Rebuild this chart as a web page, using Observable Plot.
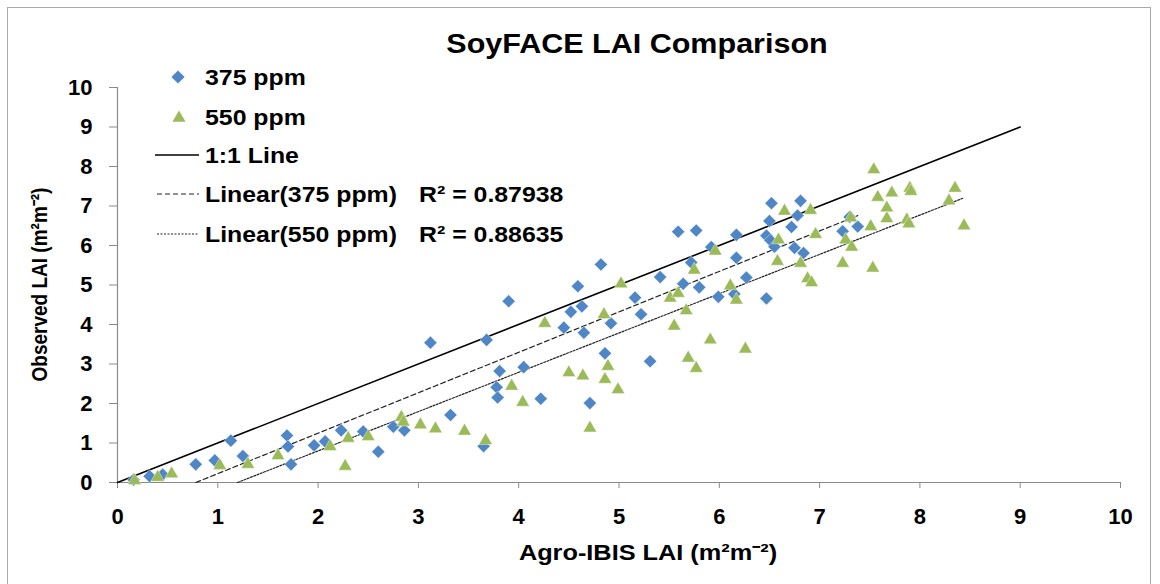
<!DOCTYPE html>
<html><head><meta charset="utf-8">
<script src="https://cdn.jsdelivr.net/npm/d3@7"></script>
<script src="https://cdn.jsdelivr.net/npm/@observablehq/plot@0.6"></script>
<style>
body{margin:0;background:#fff;font-family:"Liberation Sans",Arial,sans-serif;}
#wrap{position:relative;width:1160px;height:584px;overflow:hidden;background:#fff;}
#frame{position:absolute;left:7px;top:7px;width:1144px;height:620px;border:1px solid #aaaaaa;box-sizing:border-box;}
.t{position:absolute;font-weight:bold;color:#000;white-space:nowrap;line-height:1;}
#title{left:437px;width:400px;text-align:center;top:31px;font-size:27px;transform:scaleX(1.13);}
#xtitle{left:448px;width:400px;text-align:center;top:542px;font-size:22px;transform:scaleX(1.15);}
#ytitle{left:-160px;width:400px;text-align:center;top:275px;font-size:19px;transform:rotate(-90deg) scaleY(1.15);}
#chart{position:absolute;left:0;top:0;}
#legend{position:absolute;left:0;top:0;pointer-events:none;}
</style></head>
<body>
<div id="wrap">
  <div id="frame"></div>
  <div id="chart"></div>
  <div class="t" id="title"></div>
  <div class="t" id="xtitle"></div>
  <div class="t" id="ytitle"></div>
  <svg id="legend" width="1160" height="584"></svg>
</div>
<script>
// ---------- data ----------
const titleText = "SoyFACE LAI Comparison";
const xLabel = "Agro-IBIS LAI (m\u00B2m\u207B\u00B2)";
const yLabel = "Observed LAI (m\u00B2m\u207B\u00B2)";
const xTicks = [0,1,2,3,4,5,6,7,8,9,10];
const yTicks = [0,1,2,3,4,5,6,7,8,9,10];
const seriesNames = ["375 ppm", "550 ppm"];

const x375 = [0.16,0.32,0.45,0.78,0.97,1.13,1.25,1.69,1.70,1.73,1.96,2.07,2.23,2.45,2.60,2.75,2.86,
  3.12,3.32,3.65,3.68,3.78,3.79,3.81,3.90,4.05,4.22,4.45,4.52,4.59,4.63,4.65,4.71,4.82,4.86,4.92,
  5.16,5.22,5.31,5.41,5.59,5.64,5.72,5.77,5.80,5.92,5.99,6.15,6.17,6.17,6.27,6.47,6.47,6.50,6.51,
  6.52,6.55,6.72,6.75,6.78,6.81,6.84,7.23,7.30,7.38];
const y375 = [0.07,0.16,0.20,0.46,0.56,1.06,0.67,1.19,0.91,0.46,0.94,1.04,1.32,1.29,0.78,1.41,1.32,
  3.54,1.71,0.92,3.61,2.41,2.15,2.82,4.59,2.92,2.12,3.92,4.32,4.97,4.46,3.79,2.01,5.52,3.27,4.03,
  4.68,4.26,3.07,5.20,6.35,5.03,5.57,6.38,4.94,5.96,4.70,4.77,6.27,5.69,5.19,4.66,6.25,6.62,6.13,
  7.07,5.97,6.47,5.94,6.76,7.13,5.81,6.36,6.72,6.48];

const x550 = [0.17,0.40,0.54,1.02,1.30,1.60,2.12,2.27,2.30,2.50,2.83,2.85,3.02,3.17,3.46,3.67,3.93,
  4.04,4.26,4.50,4.64,4.71,4.85,4.86,4.89,4.99,5.02,5.51,5.55,5.59,5.67,5.69,5.75,5.77,5.91,5.96,
  6.11,6.17,6.26,6.58,6.59,6.65,6.81,6.88,6.91,6.92,6.96,7.23,7.26,7.31,7.32,7.51,7.53,7.54,7.58,
  7.67,7.67,7.72,7.87,7.89,7.90,7.91,8.29,8.35,8.44];
const y550 = [0.05,0.13,0.22,0.43,0.46,0.68,0.91,0.41,1.12,1.16,1.65,1.53,1.46,1.36,1.30,1.06,2.44,
  2.03,4.03,2.78,2.70,1.38,4.25,2.61,2.94,2.35,5.03,4.67,3.96,4.79,4.35,3.15,5.38,2.89,3.61,5.86,
  4.98,4.62,3.38,5.60,6.14,6.87,5.55,5.16,6.89,5.06,6.28,5.55,6.14,6.70,5.96,6.48,5.43,7.92,7.22,
  6.95,6.68,7.33,6.65,6.55,7.45,7.37,7.13,7.45,6.50];

// 1:1 reference line extent and fitted trendlines
const oneToOneX = [0, 9];
const trendNames = ["Linear(375 ppm)", "Linear(550 ppm)"];
const trendSlope = [1.024, 0.995];
const trendIntercept = [-0.80, -1.19];
const trendR2 = ["0.87938", "0.88635"];

// ---------- build ----------
const blue = "#4F86C6", green = "#9BBB59";
const pts375 = x375.map((x,i)=>({x, y:y375[i]}));
const pts550 = x550.map((x,i)=>({x, y:y550[i]}));
const oneLine = oneToOneX.map(x=>({x, y:x}));
function trend(k, xs){
  const x0 = -trendIntercept[k]/trendSlope[k];
  const x1 = d3.max(xs);
  return [x0, x1].map(x=>({x, y:trendSlope[k]*x+trendIntercept[k]}));
}
const t375 = trend(0, x375), t550 = trend(1, x550);

const font = '"Liberation Sans", Arial, sans-serif';
const chart = Plot.plot({
  width:1160, height:584,
  marginLeft:117, marginRight:40, marginTop:87, marginBottom:102,
  x:{domain:[xTicks[0], xTicks[xTicks.length-1]]},
  y:{domain:[yTicks[0], yTicks[yTicks.length-1]]},
  style:{fontFamily:font, background:"transparent", color:"#000", overflow:"visible"},
  marks:[
    Plot.axisX({ticks:xTicks, tickSize:6, tickPadding:20, stroke:"#8a8a8a", fill:"#000",
      fontSize:22, fontWeight:"bold", label:null, tickFormat:d=>String(d)}),
    Plot.axisY({ticks:yTicks, tickSize:8, tickPadding:17, stroke:"#8a8a8a", fill:"#000",
      fontSize:22, fontWeight:"bold", label:null, tickFormat:d=>String(d)}),
    Plot.ruleY([yTicks[0]], {stroke:"#8a8a8a", strokeWidth:1.2}),
    Plot.ruleX([xTicks[0]], {stroke:"#8a8a8a", strokeWidth:1.2}),
    Plot.line(oneLine, {x:"x", y:"y", stroke:"#000", strokeWidth:1.6}),
    Plot.line(t375, {x:"x", y:"y", stroke:"#222", strokeWidth:1.2, strokeDasharray:"5,3"}),
    Plot.line(t550, {x:"x", y:"y", stroke:"#222", strokeWidth:1.2, strokeDasharray:"2,1.5"}),
    Plot.dot(pts375, {x:"x", y:"y", symbol:"diamond2", r:5.9, fill:blue, stroke:"#fff", strokeWidth:0.4}),
    Plot.dot(pts550, {x:"x", y:"y", symbol:"triangle", r:5.0, fill:green, stroke:"#fff", strokeWidth:0.4})
  ]
});
document.getElementById("chart").appendChild(chart);
document.getElementById("title").textContent = titleText;
document.getElementById("xtitle").textContent = xLabel;
document.getElementById("ytitle").textContent = yLabel;

// ---------- legend ----------
const lg = d3.select("#legend");
const items = [
  {kind:"diamond", label:seriesNames[0], cy:77},
  {kind:"triangle", label:seriesNames[1], cy:117},
  {kind:"solid", label:"1:1 Line", cy:155},
  {kind:"dashed", label:trendNames[0], r2:trendR2[0], cy:194},
  {kind:"dotted", label:trendNames[1], r2:trendR2[1], cy:234}
];
items.forEach(it=>{
  const g = lg.append("g");
  if(it.kind==="diamond"){
    g.append("path").attr("d", d3.symbol(d3.symbolDiamond2, 110)()).attr("transform",`translate(178,${it.cy})`).attr("fill",blue);
  } else if(it.kind==="triangle"){
    g.append("path").attr("d", d3.symbol(d3.symbolTriangle, 75)()).attr("transform",`translate(179,${it.cy+1})`).attr("fill",green);
  } else {
    g.append("line").attr("x1", it.kind==="solid"?155:157).attr("x2",199).attr("y1",it.cy).attr("y2",it.cy)
      .attr("stroke", it.kind==="solid"?"#000":"#222").attr("stroke-width", it.kind==="solid"?1.4:1.1)
      .attr("stroke-dasharray", it.kind==="dashed"?"5,3": it.kind==="dotted"?"2,1.5":null);
  }
  const txt = (x, s)=> g.append("text").attr("x",0).attr("y",0)
      .attr("transform",`translate(${x},${it.cy+8}) scale(1.13,1)`)
      .attr("font-family",font).attr("font-weight","bold").attr("font-size",22).attr("fill","#000").text(s);
  txt(205, it.label);
  if(it.r2) txt(419, "R\u00B2 = " + it.r2);
});
</script>
</body></html>
